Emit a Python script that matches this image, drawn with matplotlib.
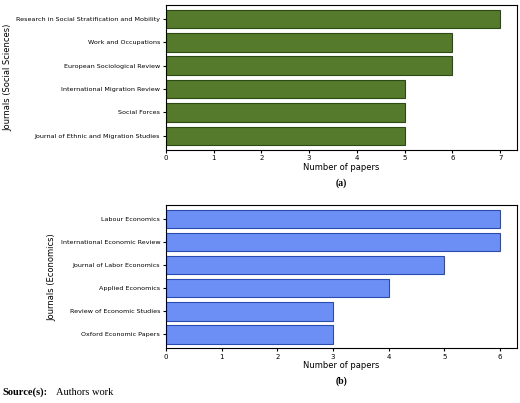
import matplotlib.pyplot as plt

# Social sciences journals (top to bottom)
soc_journals = ["Research in Social Stratification and Mobility", "Work and Occupations",
                "European Sociological Review", "International Migration Review",
                "Social Forces", "Journal of Ethnic and Migration Studies"]
soc_counts = [7, 6, 6, 5, 5, 5]

# Economics journals (top to bottom)
eco_journals = ["Labour Economics", "International Economic Review", "Journal of Labor Economics",
                "Applied Economics", "Review of Economic Studies", "Oxford Economic Papers"]
eco_counts = [6, 6, 5, 4, 3, 3]

fig = plt.figure(figsize=(5.2, 4.03), dpi=100)

def panel(rect, names, vals, color, edge, ylabel, tag, xmax):
    ax = fig.add_axes(rect)
    pos = list(range(len(names)))[::-1]
    ax.barh(pos, vals, height=0.8, color=color, edgecolor=edge, linewidth=0.8)
    ax.set_yticks(pos)
    ax.set_yticklabels(names, fontsize=4.6)
    ax.set_xlim(0, xmax)
    ax.set_ylim(-0.6, len(names) - 0.4)
    ax.tick_params(axis='x', labelsize=5, length=2, pad=2)
    ax.tick_params(axis='y', length=2, pad=2)
    ax.set_xlabel("Number of papers", fontsize=6, labelpad=1)
    ax.set_ylabel(ylabel, fontsize=6, labelpad=3)
    ax.text(0.5, -0.25, tag, transform=ax.transAxes, ha='center', fontsize=7,
            fontweight='bold', family='Liberation Serif')
    return ax

panel([0.319, 0.628, 0.675, 0.36], soc_journals, soc_counts, '#557a2b', '#2e4a14',
      "Journals (Social Sciences)", "(a)", 7.35)
panel([0.319, 0.136, 0.675, 0.355], eco_journals, eco_counts, '#6b8ff5', '#2a4bb0',
      "Journals (Economics)", "(b)", 6.3)

fig.text(0.005, 0.02, "Source(s):", fontsize=7.5, fontweight='bold', family='Liberation Serif')
fig.text(0.108, 0.02, "Authors work", fontsize=7.5, family='Liberation Serif')

plt.savefig("out.png")
